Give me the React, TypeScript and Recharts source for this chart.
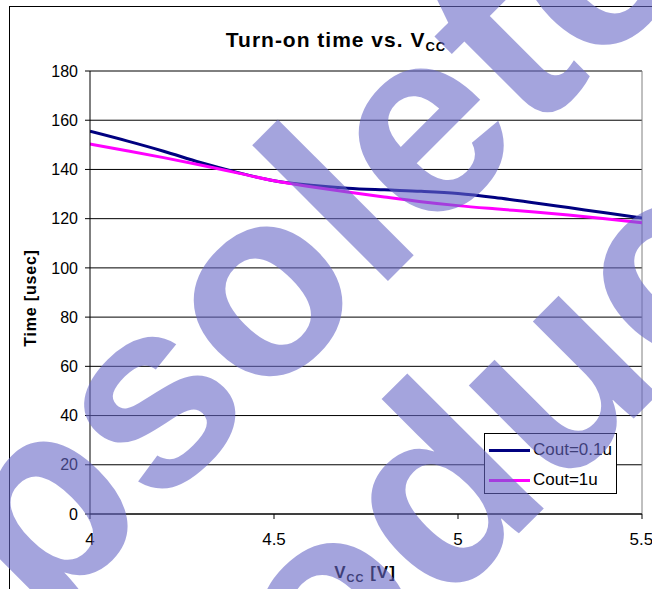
import React from 'react';
import { CartesianGrid, Line, LineChart, ReferenceLine, XAxis, YAxis } from 'recharts';

// supply voltage [V]
const vcc = [4.0, 4.1, 4.2, 4.3, 4.4, 4.5, 4.6, 4.7, 4.8, 4.9, 5.0, 5.1, 5.2, 5.3, 5.4, 5.5];
// turn-on time [usec]
const cout01u = [155.5, 151.6, 147.4, 142.8, 138.8, 135.4, 133.6, 132.4, 131.7, 131.1, 130.2, 128.6, 126.6, 124.5, 122.4, 120.3];
const cout1u = [150.3, 147.6, 144.8, 141.8, 138.6, 135.4, 133.0, 130.8, 128.8, 126.9, 125.3, 124.0, 122.8, 121.5, 120.0, 118.3];

const xTicks = [4, 4.5, 5, 5.5];
const yTicks = [0, 20, 40, 60, 80, 100, 120, 140, 160, 180];

const seriesNames = ['Cout=0.1u', 'Cout=1u'];
const seriesColors = ['#000080', '#ff00ff'];

const data = vcc.map((v, i) => ({ v, a: cout01u[i], b: cout1u[i] }));

const FONT = '"Liberation Sans", Arial, sans-serif';

const LegendBox = () => (
  <div
    style={{
      position: 'absolute',
      left: 484,
      top: 433,
      width: 133,
      height: 61,
      border: '1px solid #000',
      background: '#fff',
      boxSizing: 'border-box',
      fontFamily: FONT,
      fontSize: 17,
      color: '#000',
    }}
  >
    {seriesNames.map((name, i) => (
      <div key={name} style={{ position: 'absolute', left: 0, top: 6 + i * 30, height: 20, display: 'flex', alignItems: 'center' }}>
        <span style={{ display: 'inline-block', width: 41, height: 3, background: seriesColors[i], marginLeft: 4, marginRight: 3 }} />
        <span style={{ lineHeight: '20px' }}>{name}</span>
      </div>
    ))}
  </div>
);

const App = () => {
  return (
    <div style={{ position: 'absolute', left: 0, top: 0, width: 652, height: 589, overflow: 'hidden', background: '#fff' }}>
      {/* chart frame, runs off the right and bottom edges */}
      <div style={{ position: 'absolute', left: 9, top: 6, width: 700, height: 700, border: '1px solid #000' }} />

      <div style={{ position: 'absolute', left: 0, top: 0 }}>
        <LineChart width={652} height={589} data={data} margin={{ top: 71, right: 10, bottom: 0, left: 0 }}>
          <CartesianGrid horizontal vertical={false} stroke="#000" strokeOpacity={1} />
          <XAxis
            dataKey="v"
            type="number"
            domain={[4, 5.5]}
            ticks={xTicks}
            height={75}
            stroke="#000"
            tickSize={5}
            tickMargin={14}
            tick={{ fill: '#000', fontSize: 17, fontFamily: FONT }}
            allowDataOverflow
          />
          <YAxis
            type="number"
            domain={[0, 180]}
            ticks={yTicks}
            width={90}
            stroke="#000"
            tickSize={5}
            tickMargin={7}
            tick={{ fill: '#000', fontSize: 16, fontFamily: FONT }}
          />
          <ReferenceLine y={180} stroke="#808080" />
          <ReferenceLine x={5.5} stroke="#808080" />
          <Line type="monotone" dataKey="a" name={seriesNames[0]} stroke={seriesColors[0]} strokeWidth={3} dot={false} isAnimationActive={false} />
          <Line type="monotone" dataKey="b" name={seriesNames[1]} stroke={seriesColors[1]} strokeWidth={3} dot={false} isAnimationActive={false} />
        </LineChart>
      </div>

      <LegendBox />

      {/* title and axis titles */}
      <svg width={652} height={589} style={{ position: 'absolute', left: 0, top: 0, pointerEvents: 'none' }}>
        <text x={336} y={47} textAnchor="middle" fontFamily={FONT} fontWeight="bold" fontSize={21} letterSpacing={1} fill="#000">
          Turn-on time vs. V
          <tspan fontSize={13} dy={4}>CC</tspan>
        </text>
        <text x={365} y={578} textAnchor="middle" fontFamily={FONT} fontWeight="bold" fontSize={17} letterSpacing={1} fill="#000">
          V
          <tspan fontSize={11} dy={4}>CC</tspan>
          <tspan dy={-4}> [V]</tspan>
        </text>
        <text
          x={0}
          y={0}
          transform="translate(36,298) rotate(-90)"
          textAnchor="middle"
          fontFamily={FONT}
          fontWeight="bold"
          fontSize={16}
          letterSpacing={0.8}
          fill="#000"
        >
          Time [usec]
        </text>
      </svg>

      {/* watermark */}
      <svg width={652} height={589} style={{ position: 'absolute', left: 0, top: 0, pointerEvents: 'none' }}>
        <g transform="translate(-104,773) rotate(-45)" fontFamily={FONT} fontWeight="bold" fontSize={265} fill="#6868c6" fillOpacity={0.6}>
          <text x={0} y={0}>Obsolete</text>
          <text x={59} y={271}>Product</text>
        </g>
      </svg>
    </div>
  );
};

export default App;
